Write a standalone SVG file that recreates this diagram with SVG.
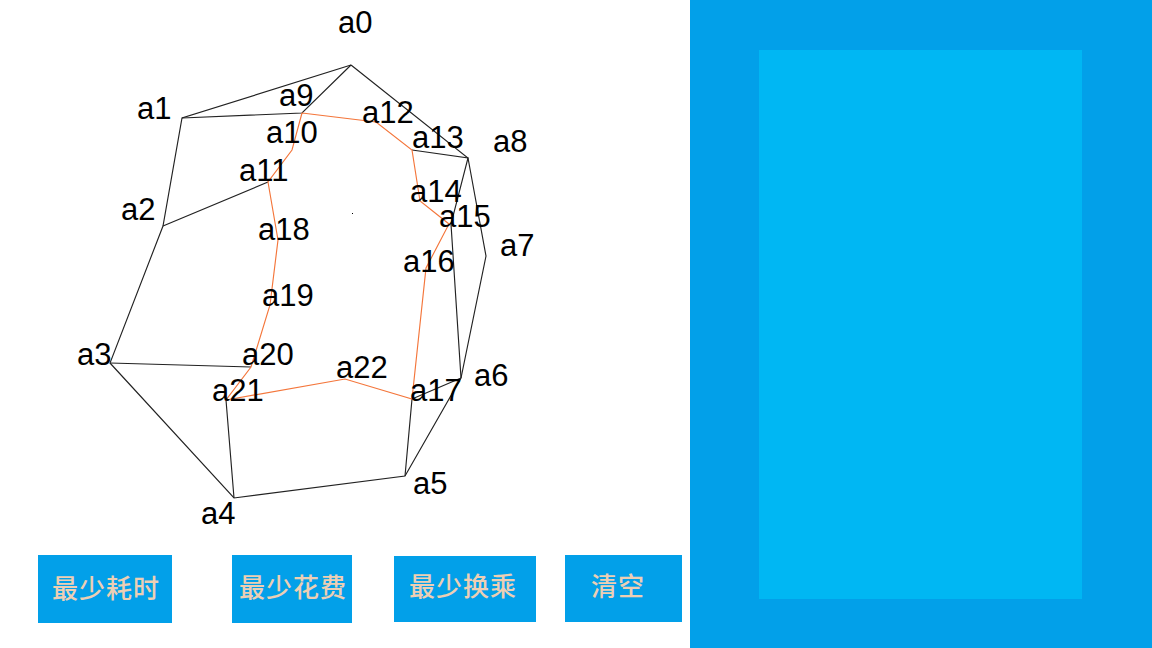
<svg xmlns="http://www.w3.org/2000/svg" width="1152" height="648" viewBox="0 0 1152 648">
<style>
.k{fill:none;stroke:#222;stroke-width:1.15}
.o{fill:none;stroke:#f4763b;stroke-width:1.15}
.l{font-family:"Liberation Sans",Arial,sans-serif;font-size:31px;fill:#000}
.b{fill:#02a0e9}
.t{font-family:"Noto Sans CJK SC","Liberation Sans",sans-serif;font-size:26px;font-weight:500;fill:#edcfb4;text-anchor:middle;letter-spacing:1px}
</style>
<rect width="1152" height="648" fill="#fff"/>
<g id="connectors">
<path class="k" d="M351 65L182 118L163 226L110 363L234 498L405 476L461 378L486 256L468 158L351 65"/>
<path class="k" d="M351 65L302 113L182 118M163 226L268 182M110 363L251 367M234 498L226 400M405 476L412 399M412 399L461 378M461 378L451 224L468 158L412 150"/>
<path class="o" d="M302 113L292 150L268 182L278 240L270 305L251 367L226 400L345 379L412 399L426 268L449 224L420 201L412 150L376 122L302 113"/>
<rect x="352" y="213" width="1" height="1" fill="#000"/>
</g>
<g id="a0"><text class="l" x="338" y="33">a0</text></g>
<g id="a1"><text class="l" x="137" y="119">a1</text></g>
<g id="a2"><text class="l" x="121" y="220">a2</text></g>
<g id="a3"><text class="l" x="77" y="365">a3</text></g>
<g id="a4"><text class="l" x="201" y="524">a4</text></g>
<g id="a5"><text class="l" x="413" y="494">a5</text></g>
<g id="a6"><text class="l" x="474" y="386">a6</text></g>
<g id="a7"><text class="l" x="500" y="256">a7</text></g>
<g id="a8"><text class="l" x="493" y="152">a8</text></g>
<g id="a9"><text class="l" x="279" y="106">a9</text></g>
<g id="a10"><text class="l" x="266" y="143">a10</text></g>
<g id="a11"><text class="l" x="239" y="181">a11</text></g>
<g id="a12"><text class="l" x="362" y="123">a12</text></g>
<g id="a13"><text class="l" x="412" y="148">a13</text></g>
<g id="a14"><text class="l" x="410" y="202">a14</text></g>
<g id="a15"><text class="l" x="439" y="227">a15</text></g>
<g id="a16"><text class="l" x="403" y="272">a16</text></g>
<g id="a17"><text class="l" x="410" y="401">a17</text></g>
<g id="a18"><text class="l" x="258" y="240">a18</text></g>
<g id="a19"><text class="l" x="262" y="306">a19</text></g>
<g id="a20"><text class="l" x="242" y="365">a20</text></g>
<g id="a21"><text class="l" x="212" y="401">a21</text></g>
<g id="a22"><text class="l" x="336" y="378">a22</text></g>
<g id="btn1"><rect class="b" x="38" y="555" width="134" height="68"/><text class="t" x="106" y="598">最少耗时</text></g>
<g id="btn2"><rect class="b" x="232" y="555" width="120" height="68"/><text class="t" x="293" y="597">最少花费</text></g>
<g id="btn3"><rect class="b" x="394" y="556" width="142" height="66"/><text class="t" x="463" y="596">最少换乘</text></g>
<g id="btn4"><rect class="b" x="565" y="555" width="117" height="67"/><text class="t" x="618" y="596">清空</text></g>
<g id="panel"><rect class="b" x="690" y="0" width="462" height="648"/><rect x="759" y="50" width="323" height="549" fill="#00b7f3"/></g>
</svg>
